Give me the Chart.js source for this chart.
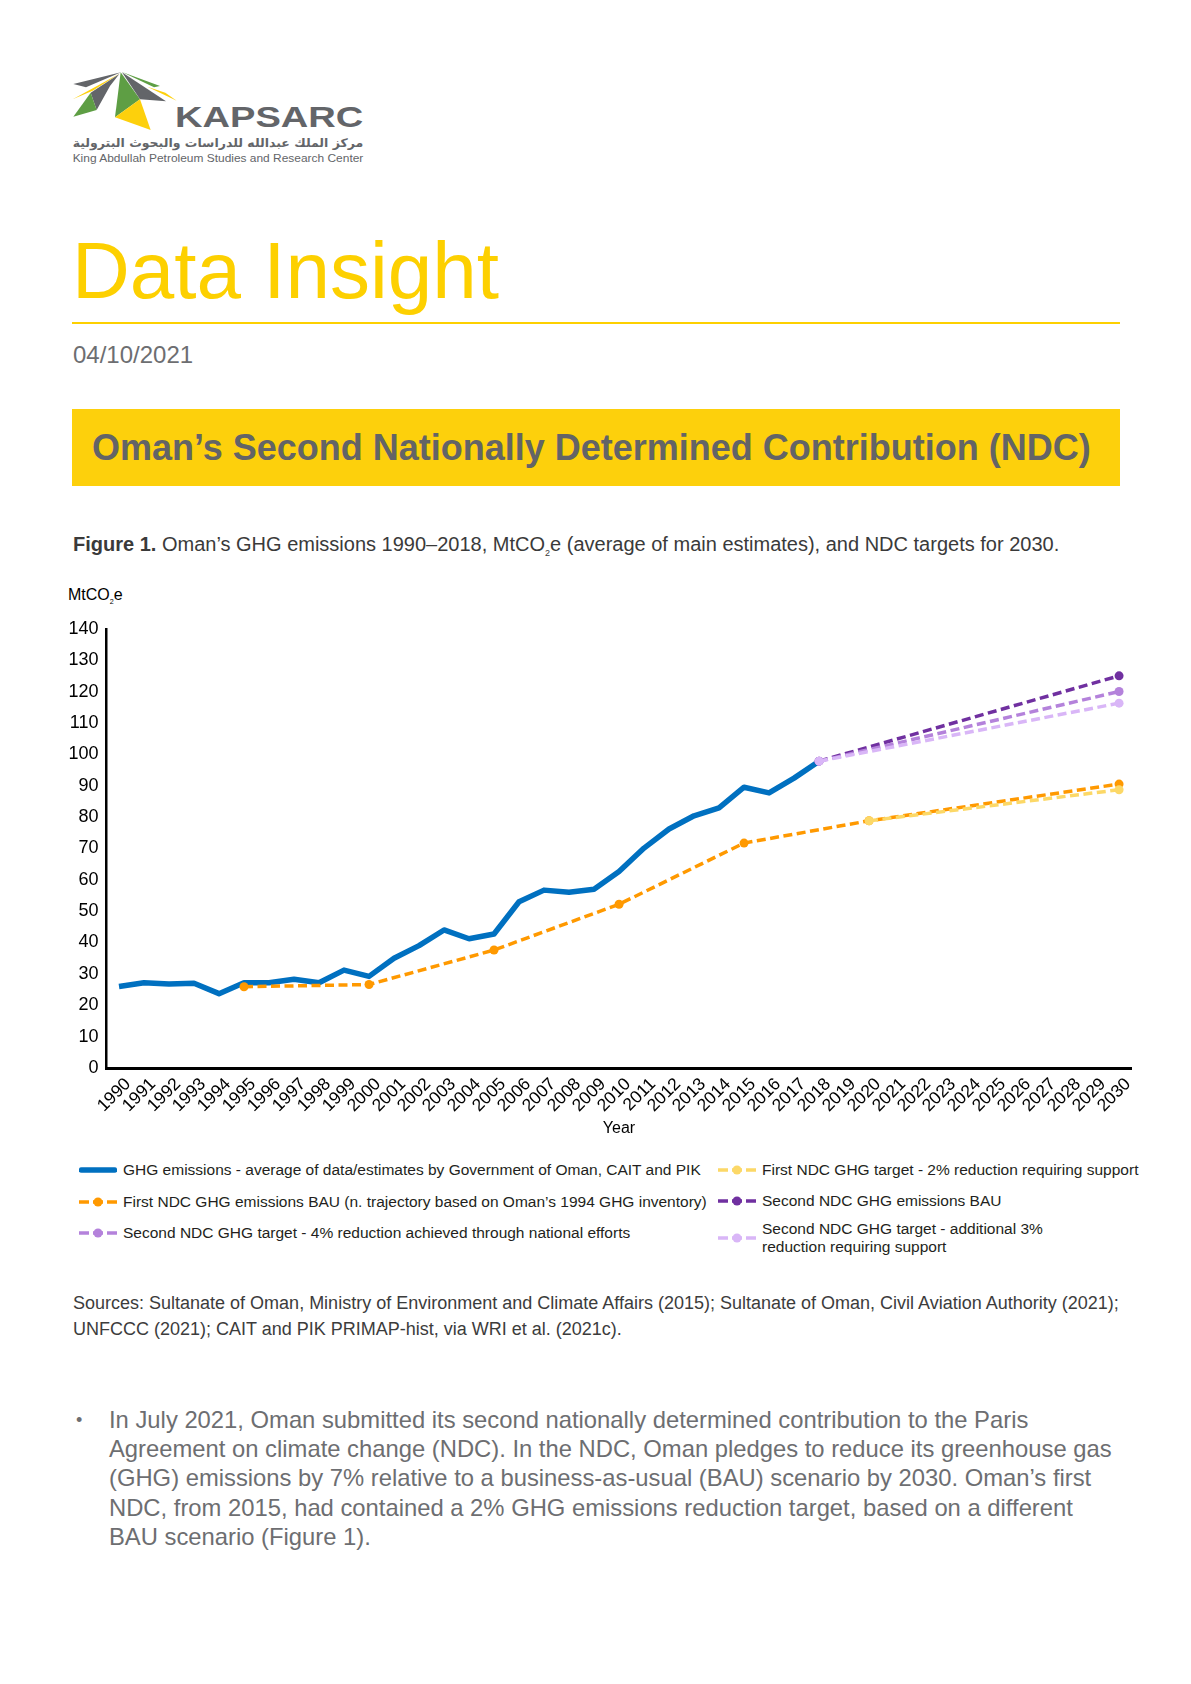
<!DOCTYPE html>
<html lang="en">
<head>
<meta charset="UTF-8">
<title>Oman's Second NDC</title>
<script src="https://cdn.jsdelivr.net/npm/chart.js@4.4.0/dist/chart.umd.min.js"></script>
<style>
    body { margin: 0; background: #fff; font-family: "Liberation Sans", Arial, Helvetica, sans-serif; }
    #page { position: relative; width: 1191px; height: 1684px; overflow: hidden; background: #fff; }
    .abs { position: absolute; white-space: nowrap; }
    #bigTitle { left: 72px; top: 231px; font-size: 80px; line-height: 80px; color: #FDD000; }
    #rule { left: 72px; top: 322px; width: 1048px; height: 2px; background: #FDD000; }
    #date { left: 73px; top: 341px; font-size: 24px; line-height: 28px; color: #6d6e71; }
    #band { left: 72px; top: 409px; width: 1048px; height: 77px; background: #FDD00C;
            display: flex; align-items: center; }
    #band span { padding-left: 20px; font-size: 36px; font-weight: bold; color: #636466; }
    #caption { left: 73px; top: 532px; font-size: 20px; line-height: 24px; color: #3a3a3a; }
    #caption sub, #unit sub { font-size: 0.45em; }
    #unit { left: 68px; top: 585px; font-size: 16px; line-height: 20px; color: #000; }
    #chartBox { left: 40px; top: 610px; width: 1100px; height: 535px; }
    .legItem { position: absolute; display: flex; align-items: center; transform: translateY(-50%);
               font-size: 15.5px; line-height: 18px; color: #231f20; white-space: pre-line; }
    .legItem svg { margin-right: 6px; flex: none; }
    #sources { left: 73px; top: 1290px; font-size: 18px; line-height: 26px; color: #3c3c3c; }
    #bullet { left: 76px; top: 1406px; font-size: 18px; line-height: 29px; color: #6d6e71; }
    #para { left: 109px; top: 1405px; font-size: 23.8px; line-height: 29.2px; color: #6d6e71; }
</style>
</head>
<body>
<div id="page">
    <!-- logo -->
    <svg class="abs" style="left:60px;top:60px" width="320" height="120" viewBox="0 0 960 360">
        <polygon points="183,37 40,72 78,82" fill="#636569"/>
        <polygon points="181,40 38,118 98,92" fill="#FDD00C"/>
        <polygon points="178,42 92,98 110,150 150,78" fill="#636569"/>
        <polygon points="92,98 40,170 110,150" fill="#5E9E44"/>
        <polygon points="182,37 165,172 240,118" fill="#5E9E44"/>
        <polygon points="165,172 240,118 272,210" fill="#FDD00C"/>
        <polygon points="186,37 240,118 318,124" fill="#636569"/>
        <polygon points="186,36 300,78 282,82" fill="#5E9E44"/>
        <polygon points="262,80 350,122 316,98" fill="#FDD00C"/>
        <text x="345" y="200" font-size="90" font-weight="bold" fill="#636569" textLength="565"
              lengthAdjust="spacingAndGlyphs" font-family="Liberation Sans, Arial, sans-serif">KAPSARC</text>
        <text x="474" y="262" font-size="36" font-weight="bold" fill="#636569" text-anchor="middle" textLength="872"
              lengthAdjust="spacingAndGlyphs" font-family="DejaVu Sans, sans-serif">مركز الملك عبدالله للدراسات والبحوث البترولية</text>
        <text x="38" y="306" font-size="34" fill="#636569" textLength="872" lengthAdjust="spacingAndGlyphs"
              font-family="Liberation Sans, Arial, sans-serif">King Abdullah Petroleum Studies and Research Center</text>
    </svg>

    <div id="bigTitle" class="abs">Data Insight</div>
    <div id="rule" class="abs"></div>
    <div id="date" class="abs">04/10/2021</div>
    <div id="band" class="abs"><span>Oman’s Second Nationally Determined Contribution (NDC)</span></div>
    <div id="caption" class="abs"><b>Figure 1.</b> Oman’s GHG emissions 1990–2018, MtCO<sub>2</sub>e (average of main estimates), and NDC targets for 2030.</div>
    <div id="unit" class="abs">MtCO<sub>2</sub>e</div>

    <div id="chartBox" class="abs"><canvas id="myChart"></canvas></div>
    <div id="legend"></div>

    <div id="sources" class="abs">Sources: Sultanate of Oman, Ministry of Environment and Climate Affairs (2015); Sultanate of Oman, Civil Aviation Authority (2021);<br>UNFCCC (2021); CAIT and PIK PRIMAP-hist, via WRI et al. (2021c).</div>
    <div id="bullet" class="abs">•</div>
    <div id="para" class="abs">In July 2021, Oman submitted its second nationally determined contribution to the Paris<br>Agreement on climate change (NDC). In the NDC, Oman pledges to reduce its greenhouse gas<br>(GHG) emissions by 7% relative to a business-as-usual (BAU) scenario by 2030. Oman’s first<br>NDC, from 2015, had contained a 2% GHG emissions reduction target, based on a different<br>BAU scenario (Figure 1).</div>
</div>

<script>
    // x axis categories
    const years = ['1990', '1991', '1992', '1993', '1994', '1995', '1996', '1997', '1998', '1999',
        '2000', '2001', '2002', '2003', '2004', '2005', '2006', '2007', '2008', '2009',
        '2010', '2011', '2012', '2013', '2014', '2015', '2016', '2017', '2018', '2019',
        '2020', '2021', '2022', '2023', '2024', '2025', '2026', '2027', '2028', '2029', '2030'];

    // historic emissions 1990-2018 (MtCO2e)
    const histYears = years.slice(0, 29);
    const histValues = [26.0, 27.2, 26.8, 27.0, 23.7, 27.2, 27.2, 28.3, 27.2, 31.2,
        29.2, 35.0, 39.0, 44.0, 41.2, 42.7, 53.0, 56.7, 56.0, 57.0,
        62.6, 70.1, 76.2, 80.4, 82.9, 89.5, 87.7, 92.4, 97.8];

    // first NDC
    const firstBauYears = ['1995', '2000', '2005', '2010', '2015', '2020', '2030'];
    const firstBauValues = [25.9, 26.6, 37.6, 52.2, 71.7, 78.8, 90.5];
    const firstTargetYears = ['2020', '2030'];
    const firstTargetValues = [78.8, 88.7];

    // second NDC
    const secondYears = ['2018', '2030'];
    const secondBauValues = [97.8, 125.0];
    const secondNationalValues = [97.8, 120.0];
    const secondSupportValues = [97.8, 116.3];

    const seriesNames = [
        'GHG emissions - average of data/estimates by Government of Oman, CAIT and PIK',
        'First NDC GHG emissions BAU (n. trajectory based on Oman’s 1994 GHG inventory)',
        'Second NDC GHG target - 4% reduction achieved through national efforts',
        'First NDC GHG target - 2% reduction requiring support',
        'Second NDC GHG emissions BAU',
        'Second NDC GHG target - additional 3%\nreduction requiring support'
    ];

    const FONT = '"Liberation Sans", Arial, Helvetica, sans-serif';

    function pts(xs, ys) {
        return xs.map((x, i) => ({ x: x, y: ys[i] }));
    }

    function dashed(label, data, color, order) {
        return {
            label: label, data: data, order: order,
            borderColor: color, backgroundColor: color,
            borderWidth: 3.5, borderDash: [9, 4.5], borderCapStyle: 'butt',
            pointRadius: 4.5, pointHoverRadius: 4.5, pointBorderWidth: 0,
            pointBackgroundColor: color, tension: 0, fill: false
        };
    }

    const datasets = [
        {
            label: seriesNames[0], data: pts(histYears, histValues), order: 5,
            borderColor: '#0070C0', backgroundColor: '#0070C0', borderWidth: 5.5,
            borderJoinStyle: 'round', pointRadius: 0, tension: 0, fill: false
        },
        dashed(seriesNames[1], pts(firstBauYears, firstBauValues), '#FF9900', 4),
        dashed(seriesNames[2], pts(secondYears, secondNationalValues), '#B482DB', 2),
        dashed(seriesNames[3], pts(firstTargetYears, firstTargetValues), '#FCD867', 1),
        dashed(seriesNames[4], pts(secondYears, secondBauValues), '#7030A0', 3),
        dashed(seriesNames[5], pts(secondYears, secondSupportValues), '#D9B6F7', 0)
    ];

    const ctx = document.getElementById('myChart').getContext('2d');
    const myChart = new Chart(ctx, {
        type: 'line',
        data: { labels: years, datasets: datasets },
        options: {
            responsive: true,
            maintainAspectRatio: false,
            animation: false,
            layout: { padding: { top: 15, right: 7, left: 0, bottom: 0 } },
            plugins: { legend: { display: false }, tooltip: { enabled: false } },
            scales: {
                x: {
                    offset: true,
                    grid: { display: false, drawTicks: false },
                    border: { color: '#000', width: 3 },
                    ticks: {
                        color: '#000', font: { family: FONT, size: 17.5 },
                        minRotation: 45, maxRotation: 45, autoSkip: false, padding: 6, labelOffset: 9
                    },
                    title: {
                        display: true, text: 'Year', color: '#000',
                        font: { family: FONT, size: 16 }, padding: { top: 4, bottom: 7 }
                    },
                    afterFit: function (s) { s.height = 77; }
                },
                y: {
                    min: 0, max: 140,
                    grid: { display: false, drawTicks: false },
                    border: { color: '#000', width: 2.5 },
                    ticks: { stepSize: 10, color: '#000', font: { family: FONT, size: 18 }, padding: 8 },
                    afterFit: function (s) { s.width = 66.5; }
                }
            }
        }
    });

    // legend, built from the datasets: two columns, three rows
    const legendSpots = [[79, 1170], [79, 1202], [79, 1233], [718, 1170], [718, 1201], [718, 1238]];
    const legend = document.getElementById('legend');
    datasets.forEach((ds, i) => {
        const item = document.createElement('div');
        item.className = 'legItem';
        item.style.left = legendSpots[i][0] + 'px';
        item.style.top = legendSpots[i][1] + 'px';
        let sym;
        if (ds.borderDash) {
            sym = '<svg width="38" height="12"><line x1="0" y1="6" x2="38" y2="6" stroke="' + ds.borderColor +
                '" stroke-width="3.5" stroke-dasharray="10 4"/><circle cx="19" cy="6" r="4.5" fill="' + ds.borderColor + '"/></svg>';
        } else {
            sym = '<svg width="38" height="12"><line x1="2.5" y1="6" x2="35.5" y2="6" stroke="' + ds.borderColor +
                '" stroke-width="5.5" stroke-linecap="round"/></svg>';
        }
        item.innerHTML = sym + '<span></span>';
        item.querySelector('span').textContent = ds.label;
        legend.appendChild(item);
    });
</script>
</body>
</html>
